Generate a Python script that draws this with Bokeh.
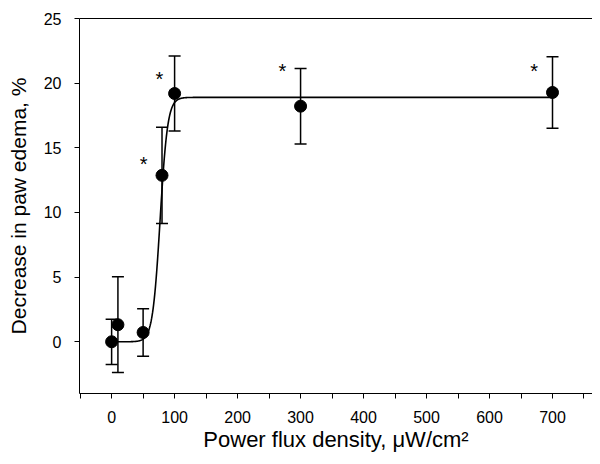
import numpy as np
from bokeh.plotting import figure
from bokeh.models import (Range1d, FixedTicker, LinearAxis, Whisker, TeeHead,
                          ColumnDataSource)
from bokeh.core.properties import value
from bokeh.embed import file_html
from bokeh.resources import INLINE

# ---- data ----
dose = [0, 10, 50, 80, 100, 300, 700]                  # power flux density, uW/cm2
effect = [0.0, 1.32, 0.72, 12.87, 19.2, 18.22, 19.28]  # decrease in paw edema, %
error = [1.75, 3.7, 1.84, 3.72, 2.9, 2.92, 2.77]       # error bar half-length, %

# significance marks (asterisks)
star_x = [51, 76, 271, 671]
star_y = [13.9, 20.5, 21.06, 21.1]

# sigmoid fit parameters (regression line shown in the chart)
fit_top = 18.9
fit_x0 = 77.0
fit_b = 6.0
fit_start, fit_end = 0, 700

x_ticks = [0, 100, 200, 300, 400, 500, 600, 700]
x_minor = [-50, 50, 150, 250, 350, 450, 550, 650, 750]
y_ticks = [0, 5, 10, 15, 20, 25]

FONT = "Liberation Sans"

p = figure(width=592, height=456,
           x_range=Range1d(-51, 763.5), y_range=Range1d(-4, 25),
           output_backend="svg", toolbar_location=None,
           min_border_left=79, min_border_right=0,
           min_border_top=18, min_border_bottom=63)
p.outline_line_color = None
p.xgrid.visible = False
p.ygrid.visible = False
p.background_fill_color = "white"
p.border_fill_color = "white"

# fitted curve
xf = np.linspace(fit_start, fit_end, 1401)
yf = fit_top / (1.0 + np.exp(-(xf - fit_x0) / fit_b))
p.line(xf, yf, line_color="black", line_width=1.6)

# error bars
src = ColumnDataSource(dict(
    x=dose, y=effect,
    upper=[v + e for v, e in zip(effect, error)],
    lower=[v - e for v, e in zip(effect, error)],
))
wh = Whisker(base="x", upper="upper", lower="lower", source=src,
             line_color="black", line_width=1.5,
             upper_head=TeeHead(size=12, line_width=1.5, line_color="black"),
             lower_head=TeeHead(size=12, line_width=1.5, line_color="black"))
p.add_layout(wh)

# points
p.scatter("x", "y", source=src, size=12, fill_color="black", line_color="black")

# asterisks
p.text(star_x, star_y, text=["*"] * len(star_x), text_font=value(FONT),
       text_font_size="20px", text_align="center", text_baseline="middle",
       text_color="black", y_offset=2)

# axes
xa = p.xaxis[0]
xa.ticker = FixedTicker(ticks=x_ticks, minor_ticks=x_minor)
xa.axis_label = "Power flux density, \u03bcW/cm\u00b2"
ya = p.yaxis[0]
ya.ticker = FixedTicker(ticks=y_ticks, minor_ticks=[])
ya.axis_label = "Decrease in paw edema, %"

for ax in (xa, ya):
    ax.axis_line_color = "black"
    ax.axis_line_width = 1
    ax.major_tick_line_color = "black"
    ax.minor_tick_line_color = "black"
    ax.major_tick_in = 0
    ax.minor_tick_in = 0
    ax.major_tick_out = 5
    ax.minor_tick_out = 5
    ax.major_label_text_font = FONT
    ax.major_label_text_font_size = "16px"
    ax.major_label_text_color = "black"
    ax.axis_label_text_font = FONT
    ax.axis_label_text_font_style = "normal"
    ax.axis_label_text_color = "black"

xa.axis_label_text_font_size = "22px"
ya.axis_label_text_font_size = "21px"
xa.major_label_standoff = 12
xa.axis_label_standoff = 1
ya.major_label_standoff = 13
ya.axis_label_standoff = 11

top = LinearAxis(ticker=FixedTicker(ticks=[], minor_ticks=[]),
                 major_tick_out=0, minor_tick_out=0, major_tick_in=0,
                 minor_tick_in=0, major_label_text_font_size="0px",
                 axis_line_color="black", axis_line_width=1)
p.add_layout(top, "above")

open("out.html", "w").write(file_html(p, INLINE))
